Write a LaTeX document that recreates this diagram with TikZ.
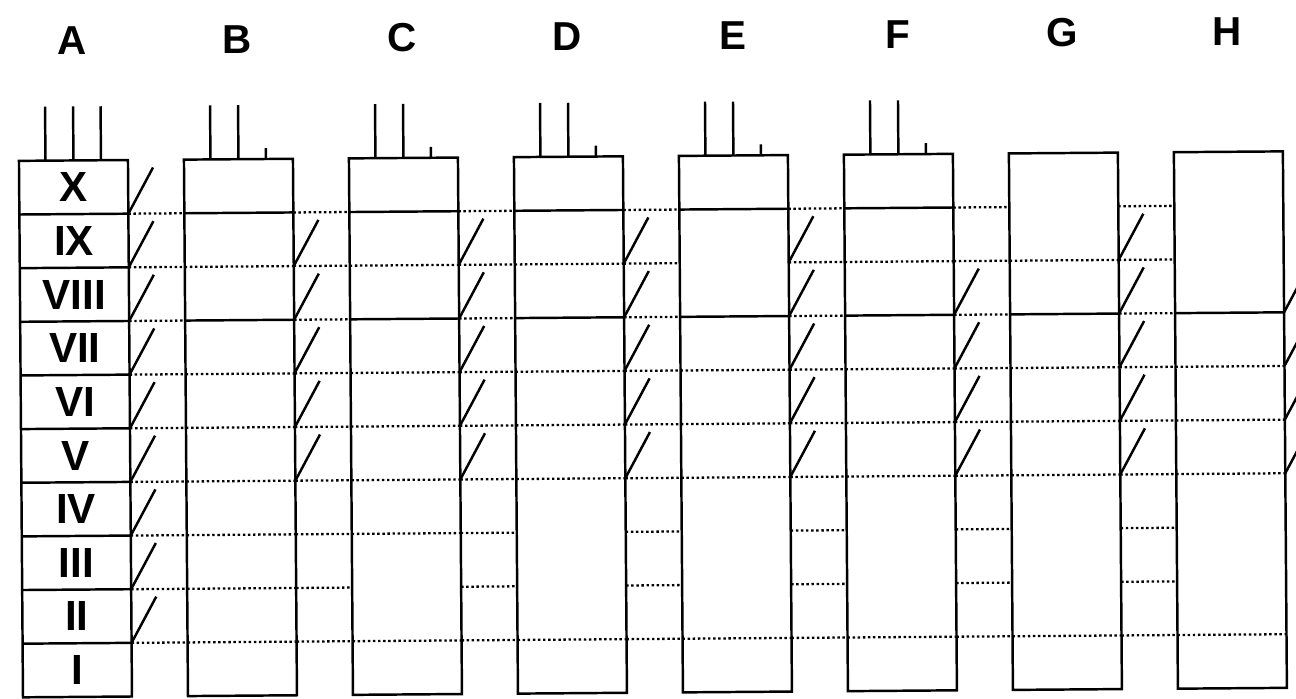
\documentclass[tikz,border=0pt]{standalone}
\usepackage{fontspec}
\setmainfont{Liberation Sans}
\usepackage{tikz}
\usetikzlibrary{positioning, calc}

\newcommand{\rowh}{1.073}

\begin{document}
\begin{tikzpicture}[
    font=\bfseries,
    colbox/.style={rectangle, draw=black, line width=1.4pt, outer sep=0pt, inner sep=0pt, minimum width=2.18cm, minimum height=10.73cm, transform shape},
    colname/.style={font=\fontsize{23}{27}\selectfont\bfseries},
    numeral/.style={font=\fontsize{24}{28}\selectfont\bfseries},
    rowdiv/.style={line width=1.4pt},
    rowline/.style={line width=1.3pt, dash pattern=on 1.4pt off 1.5pt},
    hatch/.style={line width=1.4pt},
    pinline/.style={line width=1.4pt}
]
    \useasboundingbox (0,0) rectangle (25.92,13.98);
    \begin{scope}[rotate=0.43]
    % Columns
    \node[colbox] (colA) at (1.55,5.395) {};
    \node[colbox] (colB) at (4.85,5.395) {};
    \node[colbox] (colC) at (8.15,5.395) {};
    \node[colbox] (colD) at (11.45,5.395) {};
    \node[colbox] (colE) at (14.75,5.395) {};
    \node[colbox] (colF) at (18.05,5.395) {};
    \node[colbox] (colG) at (21.35,5.395) {};
    \node[colbox] (colH) at (24.65,5.395) {};

    % Column letters
    \foreach \c in {A,B,C,D,E,F,G,H}
        \node[colname] (lab\c) at ($(col\c.north)+(0,2.4)$) {\c};

    % Numerals of column A
    \foreach \n [count=\k] in {I,II,III,IV,V,VI,VII,VIII,IX,X}
        \node[numeral] (num\n) at ($(colA.south)+(0,{(\k-0.5)*\rowh})$) {\n};

    % Solid dividers
    \foreach \k in {1,...,9}
        \draw[rowdiv] ($(colA.south west)+(0,{\k*\rowh})$) -- ($(colA.south east)+(0,{\k*\rowh})$);
    \foreach \c/\k in {B/9,C/9,D/9,E/9,F/9,B/7,C/7,D/7,E/7,F/7,G/7,H/7}
        \draw[rowdiv] ($(col\c.south west)+(0,{\k*\rowh})$) -- ($(col\c.south east)+(0,{\k*\rowh})$);

    % Dotted levels between columns
    \foreach \a/\b in {A/B,B/C,C/D,D/E,E/F,F/G,G/H}
        \foreach \k in {1,...,9}
            \draw[rowline] ($(col\a.south east)+(0,{\k*\rowh})$) -- ($(col\b.south west)+(0,{\k*\rowh})$);

    % Dotted levels inside columns
    \foreach \c in {B,C,D,E,F,G,H}
        \foreach \k in {1,4,5,6}
            \draw[rowline] ($(col\c.south west)+(0,{\k*\rowh})$) -- ($(col\c.south east)+(0,{\k*\rowh})$);
    \foreach \c/\k in {B/2,B/3,C/3,B/8,C/8,D/8,F/8,G/8}
        \draw[rowline] ($(col\c.south west)+(0,{\k*\rowh})$) -- ($(col\c.south east)+(0,{\k*\rowh})$);

    % Slashes on the right edges
    \foreach \k in {1,...,9}
        \draw[hatch] ($(colA.south east)+(0,{\k*\rowh})$) -- ++(0.5,0.92);
    \foreach \c in {B,C,D,E,G}
        \foreach \k in {4,...,8}
            \draw[hatch] ($(col\c.south east)+(0,{\k*\rowh})$) -- ++(0.5,0.92);
    \foreach \c in {F,H}
        \foreach \k in {4,...,7}
            \draw[hatch] ($(col\c.south east)+(0,{\k*\rowh})$) -- ++(0.5,0.92);

    % Pins on top
    \foreach \dx in {-0.56,0,0.55}
        \draw[pinline] ($(colA.north)+(\dx,0)$) -- ++(0,1.08);
    \foreach \c in {B,C,D,E,F} {
        \draw[pinline] ($(col\c.north)+(-0.56,0)$) -- ++(0,1.08);
        \draw[pinline] (col\c.north) -- ++(0,1.08);
        \draw[pinline] ($(col\c.north)+(0.55,0)$) -- ++(0,0.22);
    }
    \end{scope}
\end{tikzpicture}
\end{document}
